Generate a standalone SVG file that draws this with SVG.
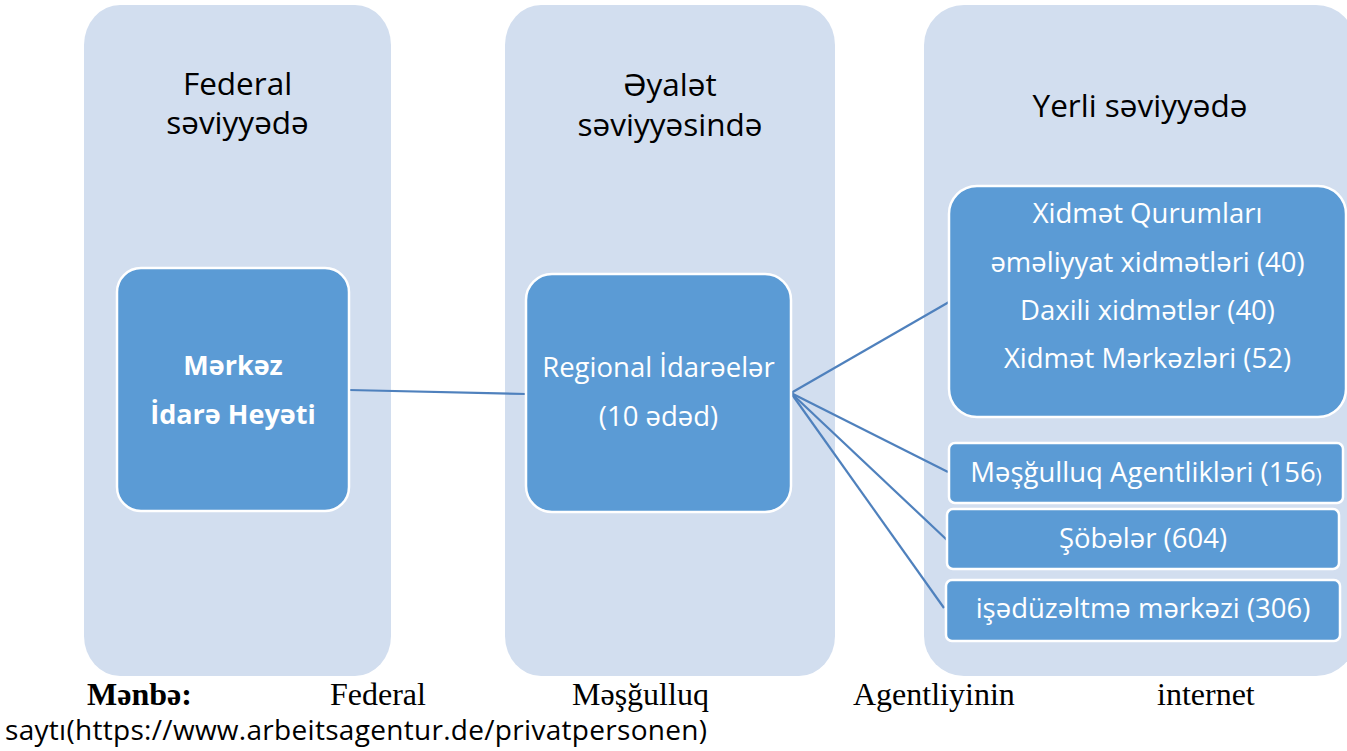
<svg xmlns="http://www.w3.org/2000/svg" width="1347" height="751" viewBox="0 0 1347 751">
  <style>
    .col { fill: #D2DEEF; }
    .node { fill: #5B9BD5; stroke: #FFFFFF; stroke-width: 2.5; }
    .hdr { font-family: "Open Sans", "Noto Sans", sans-serif; font-size: 31.5px; fill: #000000; text-anchor: middle; }
    .nt { font-family: "Open Sans", "Noto Sans", sans-serif; font-size: 27.5px; fill: #FFFFFF; text-anchor: middle; }
    .ntb { font-family: "Open Sans", "Noto Sans", sans-serif; font-size: 27px; font-weight: bold; fill: #FFFFFF; text-anchor: middle; }
    .conn { stroke: #4F81BD; stroke-width: 2.2; fill: none; }
    .ser { font-family: "Liberation Serif", "Times New Roman", serif; font-size: 32px; fill: #000000; }
    .sans { font-family: "Open Sans", "Noto Sans", sans-serif; font-size: 28px; fill: #000000; }
  </style>

  <rect width="1347" height="751" fill="#FFFFFF"/>

  <g id="col-federal">
    <rect class="col" x="84" y="5" width="307" height="671" rx="36" ry="40"/>
    <text class="hdr" x="237.5" y="95">Federal</text>
    <text class="hdr" x="237.5" y="134">səviyyədə</text>
  </g>
  <g id="col-eyalet">
    <rect class="col" x="505" y="5" width="330" height="671" rx="36" ry="40"/>
    <text class="hdr" x="670" y="96">Əyalət</text>
    <text class="hdr" x="670" y="136">səviyyəsində</text>
  </g>
  <g id="col-yerli">
    <rect class="col" x="924" y="5" width="432" height="671" rx="40" ry="40"/>
    <text class="hdr" x="1140" y="117">Yerli səviyyədə</text>
  </g>

  <g id="connectors">
    <line class="conn" x1="349" y1="390" x2="526" y2="394"/>
    <line class="conn" x1="791" y1="393" x2="949" y2="302"/>
    <line class="conn" x1="791" y1="393" x2="948" y2="472"/>
    <line class="conn" x1="791" y1="393" x2="947" y2="540"/>
    <line class="conn" x1="791" y1="393" x2="944" y2="608"/>
  </g>

  <g id="node-merkez">
    <rect class="node" x="117" y="268" width="232" height="243" rx="24" ry="24"/>
    <text class="ntb" x="233" y="375">Mərkəz</text>
    <text class="ntb" x="233" y="424">İdarə Heyəti</text>
  </g>

  <g id="node-regional">
    <rect class="node" x="526" y="274" width="265" height="238" rx="26" ry="26"/>
    <text class="nt" x="658.5" y="377">Regional İdarəelər</text>
    <text class="nt" x="658.5" y="426">(10 ədəd)</text>
  </g>

  <g id="node-xidmet">
    <rect class="node" x="949" y="186" width="397" height="231" rx="28" ry="28"/>
    <text class="nt" x="1147.5" y="223">Xidmət Qurumları</text>
    <text class="nt" x="1147.5" y="272">əməliyyat xidmətləri (40)</text>
    <text class="nt" x="1147.5" y="320">Daxili xidmətlər (40)</text>
    <text class="nt" x="1147.5" y="368">Xidmət Mərkəzləri (52)</text>
  </g>

  <g id="node-mesgulluq">
    <rect class="node" x="949" y="443" width="394" height="60" rx="6" ry="6"/>
    <text class="nt" x="1146" y="482">Məşğulluq Agentlikləri (156<tspan font-size="20">)</tspan></text>
  </g>

  <g id="node-sobeler">
    <rect class="node" x="947" y="509" width="392" height="60" rx="6" ry="6"/>
    <text class="nt" x="1143" y="548">Şöbələr (604)</text>
  </g>

  <g id="node-isduzeltme">
    <rect class="node" x="946" y="580" width="394" height="61" rx="6" ry="6"/>
    <text class="nt" x="1143" y="618">işədüzəltmə mərkəzi (306)</text>
  </g>

  <g id="footer">
    <text class="ser" x="87" y="705" font-weight="bold">Mənbə:</text>
    <text class="ser" x="330" y="705">Federal</text>
    <text class="ser" x="572" y="705">Məşğulluq</text>
    <text class="ser" x="853" y="705">Agentliyinin</text>
    <text class="ser" x="1157" y="705">internet</text>
    <text class="sans" x="5" y="740" textLength="702" lengthAdjust="spacing">saytı(https://www.arbeitsagentur.de/privatpersonen)</text>
  </g>
</svg>
